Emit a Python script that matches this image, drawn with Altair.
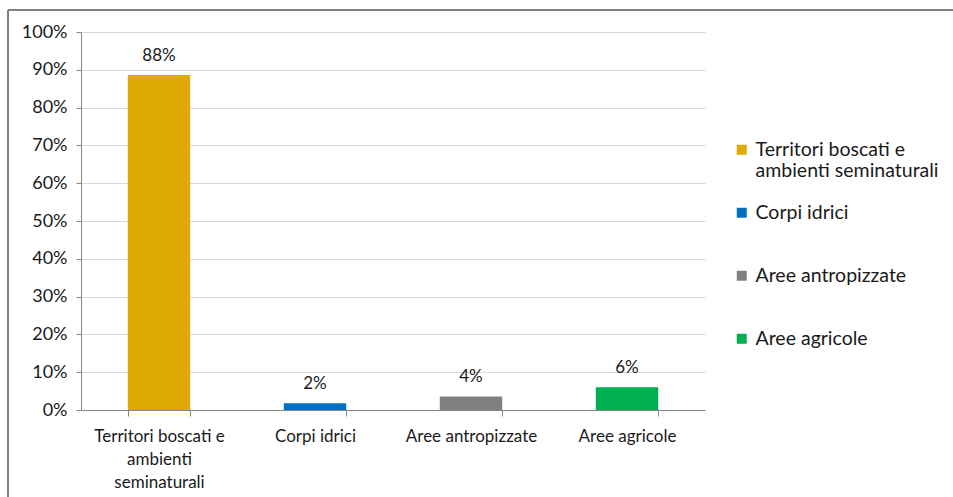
import altair as alt
import pandas as pd

categories = [
    "Territori boscati e ambienti seminaturali",
    "Corpi idrici",
    "Aree antropizzate",
    "Aree agricole",
]
values = [0.886, 0.018, 0.036, 0.060]
value_labels = ["88%", "2%", "4%", "6%"]
colors = ["#DEA900", "#0070C0", "#808080", "#00B050"]
axis_lines_first = ["Territori boscati e", "ambienti", "seminaturali"]
legend_lines_first = ["Territori boscati e", "ambienti seminaturali"]
y_ticks = [0.0, 0.1, 0.2, 0.3, 0.4, 0.5, 0.6, 0.7, 0.8, 0.9, 1.0]

df = pd.DataFrame({"cat": categories, "val": values, "lab": value_labels})

FONT = "Lato"
TXT = "#1a1a1a"


def arr(lines):
    return "[" + ", ".join("'" + s + "'" for s in lines) + "]"


axis_expr = f"datum.value == '{categories[0]}' ? {arr(axis_lines_first)} : datum.label"
legend_expr = (
    f"datum.value == '{categories[0]}' ? {arr(legend_lines_first)} : [datum.label, ' ']"
)

x = alt.X(
    "cat:N",
    sort=categories,
    title=None,
    scale=alt.Scale(paddingInner=0.6, paddingOuter=0.3),
    axis=alt.Axis(
        labelAngle=0,
        tickBand="extent",
        labelExpr=axis_expr,
        labelFont=FONT,
        labelFontSize=17,
        labelColor=TXT,
        labelLineHeight=23,
        labelPadding=12,
        tickSize=6,
        tickColor="#868686",
        domainColor="#868686",
        grid=False,
    ),
)
y = alt.Y(
    "val:Q",
    title=None,
    scale=alt.Scale(domain=[0, 1], nice=False),
    axis=alt.Axis(
        values=y_ticks,
        format=".0%",
        labelOverlap=False,
        labelFont=FONT,
        labelFontSize=18,
        labelColor=TXT,
        labelPadding=9,
        tickSize=5,
        tickColor="#868686",
        domainColor="#868686",
        gridColor="#D9D9D9",
    ),
)

base = alt.Chart(df).encode(x=x, y=y)

bars = base.mark_bar().encode(
    color=alt.Color(
        "cat:N",
        sort=categories,
        scale=alt.Scale(domain=categories, range=colors),
        legend=alt.Legend(
            title=None,
            orient="none",
            legendX=651,
            legendY=108,
            symbolType="square",
            symbolSize=100,
            symbolStrokeWidth=0,
            labelFont=FONT,
            labelFontSize=19.5,
            labelColor=TXT,
            labelLimit=300,
            labelExpr=legend_expr,
            rowPadding=21,
        ),
    ),
)

labels = base.mark_text(
    dy=-19, baseline="middle", font=FONT, fontSize=17, color=TXT
).encode(text="lab:N")

frame_top = alt.Chart(df).mark_rule(color="#808080", strokeWidth=1.5).encode(
    x=alt.value(-73), x2=alt.value(880), y=alt.value(-22)
)
frame_left = alt.Chart(df).mark_rule(color="#808080", strokeWidth=1.5).encode(
    x=alt.value(-73), y=alt.value(-22), y2=alt.value(470)
)

chart = (
    alt.layer(bars, labels, frame_top, frame_left)
    .properties(
        width=624,
        height=378,
        autosize=alt.AutoSizeParams(type="none"),
        padding={"left": 81, "top": 32, "right": 248, "bottom": 87},
        background="white",
    )
    .configure_view(stroke=None)
)

chart.save("out.html", embed_options={"renderer": "svg", "actions": False})
